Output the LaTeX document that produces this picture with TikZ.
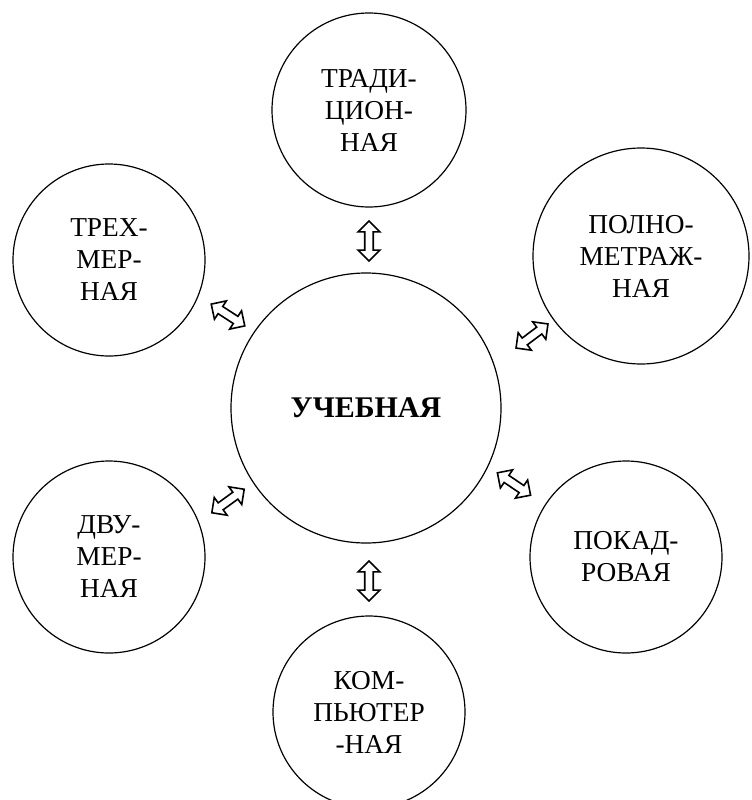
\documentclass[tikz,border=0pt]{standalone}
\usepackage{fontspec}
\setmainfont{Liberation Serif}
\usetikzlibrary{shapes.arrows}
\begin{document}
\begin{tikzpicture}[x=0.75pt,y=-0.75pt,
  circ/.style={draw, circle, line width=0.9pt, inner sep=0pt, align=center,
    font=\fontsize{20.5}{24}\selectfont},
  darrow/.style={draw, double arrow, line width=1.2pt, minimum height=30pt,
    inner sep=2.6pt, double arrow head extend=5pt}
]
\useasboundingbox (0,0) rectangle (752,800);
\node[circ, minimum size=202.5pt, font=\fontsize{22.5}{26}\selectfont\bfseries] (c) at (366,408) {УЧЕБНАЯ};
\node[circ, minimum size=145.5pt] (t) at (369,110) {ТРАДИ-\\ЦИОН-\\НАЯ};
\node[circ, minimum size=144pt] (lt) at (109,260) {ТРЕХ-\\МЕР-\\НАЯ};
\node[circ, minimum size=162pt] (rt) at (641,256) {ПОЛНО-\\МЕТРАЖ-\\НАЯ};
\node[circ, minimum size=144pt] (lb) at (109,557) {ДВУ-\\МЕР-\\НАЯ};
\node[circ, minimum size=144pt] (rb) at (626,557) {ПОКАД-\\РОВАЯ};
\node[circ, minimum size=144pt] (b) at (369,712) {КОМ-\\ПЬЮТЕР\\-НАЯ};
\node[darrow, rotate=90] (at) at (369,241) {};
\node[darrow, rotate=90] (ab) at (369,581) {};
\node[darrow, rotate=-33] (alt) at (228,315) {};
\node[darrow, rotate=37] (art) at (532,336) {};
\node[darrow, rotate=36] (alb) at (228,501) {};
\node[darrow, rotate=-34] (arb) at (514,484) {};
\end{tikzpicture}
\end{document}
